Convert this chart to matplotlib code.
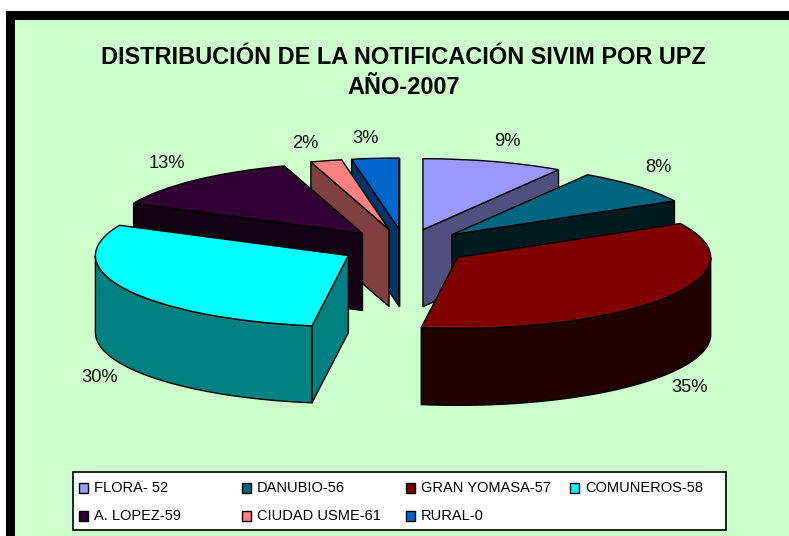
import numpy as np
import matplotlib
matplotlib.use("Agg")
import matplotlib.pyplot as plt
from matplotlib.patches import Rectangle, Polygon

plt.rcParams['font.family'] = ['Liberation Sans', 'DejaVu Sans']

# Data
categories = ["FLORA- 52", "DANUBIO-56", "GRAN YOMASA-57", "COMUNEROS-58",
              "A. LOPEZ-59", "CIUDAD USME-61", "RURAL-0"]
values = [9.0, 8.1, 35.2, 29.7, 13.0, 2.0, 3.0]
title_lines = ["DISTRIBUCIÓN DE LA NOTIFICACIÓN SIVIM POR UPZ", "AÑO-2007"]

# Styles
top_colors = ["#9999FF", "#006680", "#800000", "#00FFFF", "#330033", "#FF8080", "#0066CC"]
side_colors = ["#505080", "#001A20", "#200000", "#008080", "#140014", "#804040", "#003366"]
draw_order = [0, 1, 6, 5, 4, 3, 2]
label_xy = [(507, 141), (658, 168), (690, 388), (100, 377), (167, 164), (305, 143), (366, 139)]

W, H = 789, 536
CX, CY, RX, RY, DEPTH = 405, 247, 253, 71, 77
EXPLODE = 0.254
LW = 1.0


def fx(x):
    return x / W


def fy(y):
    return 1 - y / H


fig = plt.figure(figsize=(W / 100, H / 100), dpi=100, facecolor="white")

# background and black frame (behind the axes)
fig.add_artist(Rectangle((fx(6), 0), 1 - fx(6), fy(11), transform=fig.transFigure, fc="black", ec="none", zorder=-5))
fig.add_artist(Rectangle((fx(15), 0), 1 - fx(15), fy(20), transform=fig.transFigure, fc="#CCFFCC", ec="none", zorder=-4))

# pie axes: one data unit = RX px horizontally, RY px vertically
ext_x, ext_y = 1.45, 2.8
ax = fig.add_axes([fx(CX - ext_x * RX), fy(CY + ext_y * RY), 2 * ext_x * RX / W, 2 * ext_y * RY / H])
ax.patch.set_visible(False)
wedges, _ = ax.pie(values, explode=[EXPLODE] * len(values), startangle=90, counterclock=False,
                   radius=1, colors=top_colors, normalize=True,
                   wedgeprops=dict(edgecolor="black", linewidth=LW))
ax.set_aspect("auto")
ax.set_xlim(-ext_x, ext_x)
ax.set_ylim(-ext_y, ext_y)
ax.axis("off")

d = DEPTH / RY
z = 5
for i in draw_order:
    w = wedges[i]
    cx, cy = w.center
    t1, t2 = w.theta1, w.theta2
    side = side_colors[i]
    kw = dict(closed=True, fc=side, ec="black", lw=LW, joinstyle="round")
    for t, visible in ((t1, np.cos(np.radians(t1)) > 0), (t2, np.cos(np.radians(t2)) < 0)):
        if visible:
            px, py = cx + np.cos(np.radians(t)), cy + np.sin(np.radians(t))
            ax.add_patch(Polygon([(cx, cy), (px, py), (px, py - d), (cx, cy - d)], zorder=z, **kw))
            z += 1
    # outer rim, only the part that faces the viewer
    for k in range(-2, 2):
        a = max(t1, -180 + 360 * k)
        b = min(t2, 360 * k)
        if b > a:
            ts = np.radians(np.linspace(a, b, 80))
            xs, ys = cx + np.cos(ts), cy + np.sin(ts)
            pts = np.r_[np.c_[xs, ys], np.c_[xs, ys - d][::-1]]
            ax.add_patch(Polygon(pts, zorder=z, **kw))
            z += 1
    w.set_zorder(z)
    z += 1

# title
for line, y in zip(title_lines, (57, 88)):
    fig.text(fx(403.5), fy(y), line, ha="center", va="center", fontsize=16.9, fontweight="bold", color="black")

# percent labels
for v, (x, y) in zip(values, label_xy):
    fig.text(fx(x), fy(y), f"{v:.0f}%", ha="center", va="center", fontsize=13.2, color="#111111")

# legend
fig.add_artist(Rectangle((fx(73), fy(530)), (726 - 73) / W, (530 - 472) / H, transform=fig.transFigure,
                         fc="white", ec="black", lw=1.2))
col_x = [79, 242, 406, 570]
row_y = [488, 516]
for i, (name, color) in enumerate(zip(categories, top_colors)):
    x = col_x[i % 4]
    y = row_y[i // 4]
    fig.add_artist(Rectangle((fx(x), fy(y + 5)), 9 / W, 10 / H, transform=fig.transFigure,
                             fc=color, ec="black", lw=1.0))
    fig.text(fx(x + 15), fy(y), name, ha="left", va="center", fontsize=10.5, color="black")

fig.savefig("out.png", dpi=100, facecolor="white")
